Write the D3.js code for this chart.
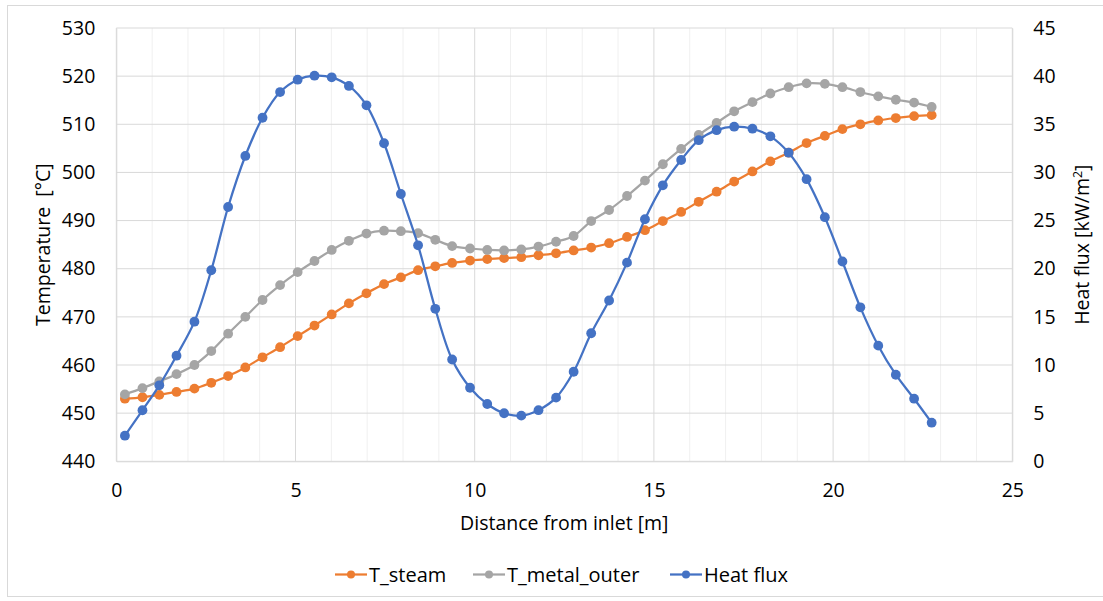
<!DOCTYPE html>
<html><head><meta charset="utf-8">
<script src="https://cdn.jsdelivr.net/npm/d3@7"></script>
<style>body{margin:0;background:#fff;} text{font-family:"Open Sans",sans-serif;fill:#000;}</style>
</head><body><svg id="c" width="1103" height="601"></svg>
<script>
const distance = [0.24,0.73,1.20,1.68,2.18,2.65,3.12,3.60,4.08,4.57,5.06,5.53,6.01,6.49,6.98,7.47,7.94,8.42,8.90,9.37,9.87,10.35,10.82,11.30,11.78,12.27,12.76,13.25,13.75,14.25,14.75,15.25,15.76,16.25,16.75,17.24,17.75,18.25,18.76,19.26,19.77,20.26,20.76,21.26,21.75,22.26,22.75];
const tSteam = [453.0,453.3,453.8,454.4,455.1,456.3,457.7,459.5,461.6,463.7,466.0,468.2,470.5,472.8,474.9,476.8,478.2,479.7,480.5,481.2,481.7,482.0,482.2,482.4,482.8,483.2,483.8,484.4,485.3,486.6,488.0,489.9,491.8,493.9,496.0,498.1,500.2,502.3,504.1,506.1,507.6,509.0,510.0,510.8,511.3,511.7,511.9];
const tMetalOuter = [453.9,455.2,456.6,458.1,460.0,462.9,466.5,470.0,473.5,476.6,479.3,481.6,483.9,485.8,487.3,487.9,487.8,487.4,486.0,484.7,484.2,483.9,483.8,484.0,484.6,485.6,486.8,489.9,492.2,495.1,498.3,501.7,504.9,507.8,510.3,512.7,514.6,516.4,517.7,518.5,518.4,517.7,516.7,515.8,515.1,514.5,513.6];
const heatFlux = [2.66,5.30,7.89,10.97,14.50,19.84,26.41,31.71,35.68,38.35,39.63,40.05,39.88,38.98,36.97,33.03,27.76,22.43,15.84,10.57,7.64,5.95,4.99,4.74,5.31,6.61,9.30,13.30,16.70,20.63,25.14,28.66,31.29,33.35,34.39,34.75,34.54,33.75,32.05,29.30,25.35,20.75,15.99,12.01,8.99,6.50,4.01];
const xTicks = [0,5,10,15,20,25];
const yTicksLeft = [440,450,460,470,480,490,500,510,520,530];
const yTicksRight = [0,5,10,15,20,25,30,35,40,45];
const seriesNames = ["T_steam","T_metal_outer","Heat flux"];
const seriesColors = ["#ED7D31","#A5A5A5","#4472C4"];

const FS = "19.5px";
const svg = d3.select("#c");
const L = 116.3, R = 1012.3, T = 28, B = 461.3;
const x = d3.scaleLinear().domain([0,25]).range([L,R]);
const yL = d3.scaleLinear().domain([440,530]).range([B,T]);
const yR = d3.scaleLinear().domain([0,45]).range([B,T]);

svg.append("rect").attr("x",7.5).attr("y",5.5).attr("width",1100).attr("height",591).attr("fill","#fff").attr("stroke","#d9d9d9").attr("stroke-width",1);

// minor vertical grid
svg.append("g").selectAll("line").data(d3.range(0,26).filter(d=>d%5!==0)).join("line")
  .attr("x1",d=>x(d)).attr("x2",d=>x(d)).attr("y1",T).attr("y2",B).attr("stroke","#f0f0f0").attr("stroke-width",1);
// major vertical grid
svg.append("g").selectAll("line").data(xTicks).join("line")
  .attr("x1",d=>x(d)).attr("x2",d=>x(d)).attr("y1",T).attr("y2",B).attr("stroke","#d9d9d9").attr("stroke-width",1);
// horizontal grid
svg.append("g").selectAll("line").data(yTicksLeft).join("line")
  .attr("x1",L).attr("x2",R).attr("y1",d=>yL(d)).attr("y2",d=>yL(d)).attr("stroke","#d9d9d9").attr("stroke-width",1);

// axes (labels)
const gx = svg.append("g").attr("transform",`translate(0,${B})`).call(d3.axisBottom(x).tickValues(xTicks).tickSize(0).tickPadding(22).tickFormat(d3.format("d")));
const gl = svg.append("g").attr("transform",`translate(${L},0)`).call(d3.axisLeft(yL).tickValues(yTicksLeft).tickSize(0).tickPadding(21).tickFormat(d3.format("d")));
const gr = svg.append("g").attr("transform",`translate(${R},0)`).call(d3.axisRight(yR).tickValues(yTicksRight).tickSize(0).tickPadding(21).tickFormat(d3.format("d")));
[gx,gl,gr].forEach(g=>{g.select(".domain").attr("stroke","#d9d9d9");g.selectAll("text").attr("font-size",FS).attr("font-family","'Open Sans',sans-serif").attr("fill","#000");});

// titles
svg.append("text").attr("x",(L+R)/2).attr("y",530).attr("text-anchor","middle").attr("font-size",FS).text("Distance from inlet [m]");
svg.append("text").attr("transform",`translate(50,${(T+B)/2}) rotate(-90)`).attr("text-anchor","middle").attr("font-size",FS).text("Temperature\u00A0 [°C]");
const rt = svg.append("text").attr("transform",`translate(1089,${(T+B)/2}) rotate(-90)`).attr("text-anchor","middle").attr("font-size",FS);
rt.append("tspan").text("Heat flux [kW/m");
rt.append("tspan").attr("font-size","12.5px").attr("dy","-7").text("2");
rt.append("tspan").attr("dy","7").text("]");

const data = [
  distance.map((d,i)=>[x(d),yL(tSteam[i])]),
  distance.map((d,i)=>[x(d),yL(tMetalOuter[i])]),
  distance.map((d,i)=>[x(d),yR(heatFlux[i])])
];
const line = d3.line().curve(d3.curveCatmullRom.alpha(0.5));
data.forEach((pts,k)=>{
  svg.append("path").attr("d",line(pts)).attr("fill","none").attr("stroke",seriesColors[k]).attr("stroke-width",2.25);
  svg.append("g").selectAll("circle").data(pts).join("circle")
    .attr("cx",d=>d[0]).attr("cy",d=>d[1]).attr("r",4.9).attr("fill",seriesColors[k]);
});

// legend
const legX = [335,473,670];
const lg = svg.append("g");
seriesNames.forEach((n,k)=>{
  lg.append("line").attr("x1",legX[k]).attr("x2",legX[k]+32).attr("y1",574.5).attr("y2",574.5).attr("stroke",seriesColors[k]).attr("stroke-width",2.25);
  lg.append("circle").attr("cx",legX[k]+16).attr("cy",574.5).attr("r",4).attr("fill",seriesColors[k]);
  lg.append("text").attr("x",legX[k]+34).attr("y",581.5).attr("font-size","20px").text(n);
});
</script></body></html>
